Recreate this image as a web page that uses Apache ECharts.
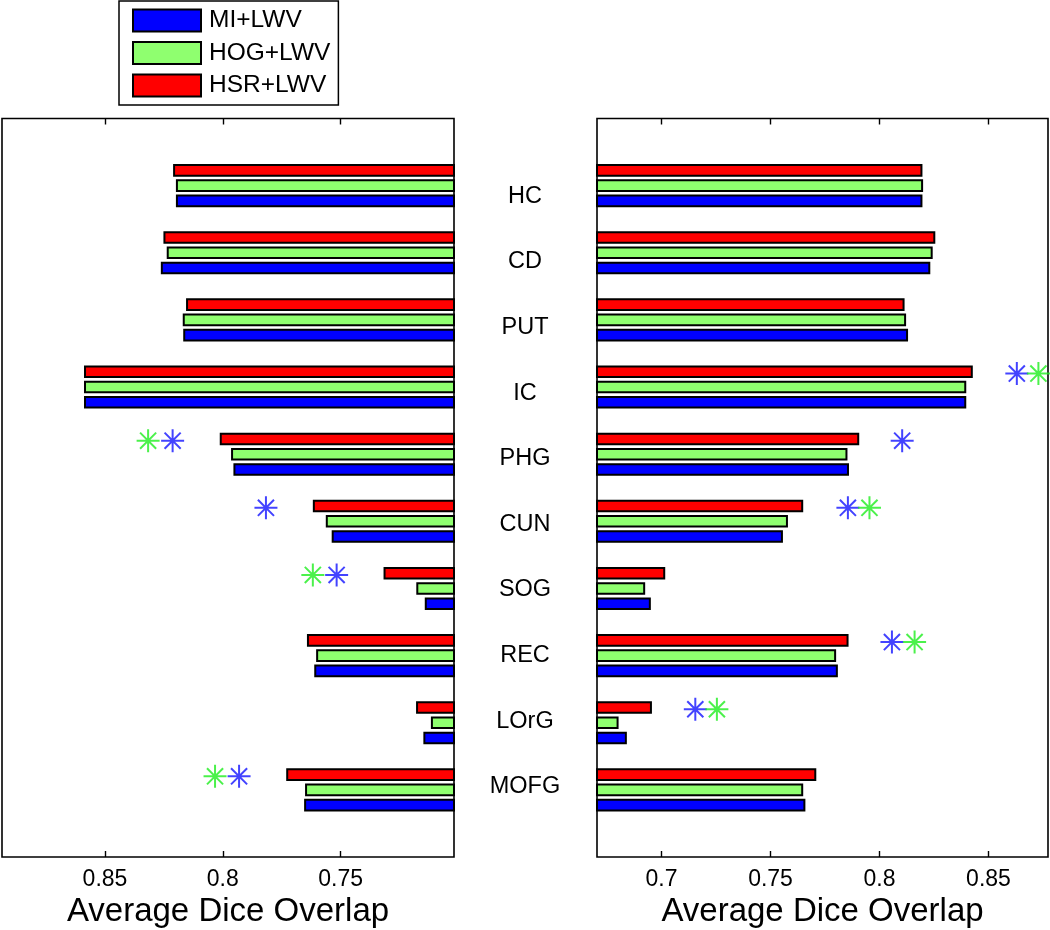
<!DOCTYPE html>
<html><head><meta charset="utf-8">
<script src="https://cdn.jsdelivr.net/npm/echarts@6/dist/echarts.min.js"></script>
<style>html,body{margin:0;padding:0;background:#fff}#c{width:1050px;height:930px}</style>
</head><body><div id="c"></div>
<script>
// ---------- data ----------
const categories = ['HC', 'CD', 'PUT', 'IC', 'PHG', 'CUN', 'SOG', 'REC', 'LOrG', 'MOFG'];
const seriesNames = ['MI+LWV', 'HOG+LWV', 'HSR+LWV'];

// left panel (reversed axis)
const leftMI  = [0.8199, 0.8263, 0.8168, 0.8589, 0.7955, 0.7538, 0.7143, 0.7612, 0.7149, 0.7655];
const leftHOG = [0.8199, 0.8238, 0.8170, 0.8589, 0.7965, 0.7563, 0.7179, 0.7604, 0.7117, 0.7651];
const leftHSR = [0.8211, 0.8252, 0.8156, 0.8589, 0.8013, 0.7618, 0.7318, 0.7643, 0.7180, 0.7731];

// right panel
const rightMI  = [0.8197, 0.8233, 0.8131, 0.8398, 0.7860, 0.7557, 0.6951, 0.7809, 0.6841, 0.7660];
const rightHOG = [0.8200, 0.8244, 0.8122, 0.8398, 0.7853, 0.7580, 0.6925, 0.7801, 0.6803, 0.7650];
const rightHSR = [0.8197, 0.8256, 0.8115, 0.8428, 0.7907, 0.7650, 0.7017, 0.7858, 0.6956, 0.7710];

// significance markers [value, category]
const leftStarsBlue  = [[0.8213, 'PHG'], [0.7817, 'CUN'], [0.7517, 'SOG'], [0.7931, 'MOFG']];
const leftStarsGreen = [[0.8317, 'PHG'], [0.7618, 'SOG'], [0.8033, 'MOFG']];
const rightStarsBlue  = [[0.8630, 'IC'], [0.8104, 'PHG'], [0.7855, 'CUN'], [0.8057, 'REC'], [0.7155, 'LOrG']];
const rightStarsGreen = [[0.8729, 'IC'], [0.7954, 'CUN'], [0.8161, 'REC'], [0.7254, 'LOrG']];

const leftTicks  = [0.75, 0.8, 0.85];
const rightTicks = [0.7, 0.75, 0.8, 0.85];
const leftRange  = [0.7019, 0.8937];
const rightRange = [0.6704, 0.8773];
const axisTitle = 'Average Dice Overlap';

// ---------- chart ----------
const FONT = 'Liberation Sans, Arial, Helvetica, sans-serif';
const colors = {MI: '#0000FF', HOG: '#8FFF6F', HSR: '#FF0000'};
const starColors = {blue: '#1414FF', green: '#1EEE1E'};
const padCats = [''].concat(categories, [' ']);
const pad = arr => ['-'].concat(arr, ['-']);
const STAR = 'path://M12 0V24M0 12H24M3.6 3.6L20.4 20.4M3.6 20.4L20.4 3.6';

function valueAxes(grid, range, ticks, inverse) {
  const common = {
    type: 'value', gridIndex: grid, min: range[0], max: range[1], inverse: inverse,
    axisLine: {show: false}, splitLine: {show: false},
    axisTick: {show: true, inside: true, length: 6, customValues: ticks, lineStyle: {color: '#000', width: 1.4}}
  };
  return [
    Object.assign({}, common, {
      position: 'bottom',
      axisLabel: {show: true, customValues: ticks, fontSize: 23, margin: 11, color: '#000', fontFamily: FONT},
      name: axisTitle, nameLocation: 'middle', nameGap: 37,
      nameTextStyle: {fontSize: 33, color: '#000', fontFamily: FONT}
    }),
    Object.assign({}, common, {position: 'top', axisLabel: {show: false}})
  ];
}
function catAxis(grid) {
  return {type: 'category', gridIndex: grid, inverse: true, data: padCats, boundaryGap: false,
    axisLine: {show: false}, axisTick: {show: false}, axisLabel: {show: false}, splitLine: {show: false}};
}
function bars(name, data, color, xi, yi) {
  return {type: 'bar', name: name, data: pad(data), xAxisIndex: xi, yAxisIndex: yi,
    barWidth: 12.6, barGap: '21%',
    itemStyle: {color: color, borderColor: '#000', borderWidth: 2}, silent: true};
}
function stars(data, color, xi, yi) {
  return {type: 'scatter', data: data, xAxisIndex: xi, yAxisIndex: yi, symbol: STAR, symbolSize: 23,
    symbolOffset: [0, -13.5], z: 5, silent: true,
    itemStyle: {color: 'none', borderColor: color, borderWidth: 2}};
}

const gridBase = {show: true, borderColor: '#000', borderWidth: 1.6, backgroundColor: 'transparent',
  top: 118.5, height: 738.5, containLabel: false, outerBoundsMode: 'none'};

const option = {
  animation: false,
  backgroundColor: '#fff',
  textStyle: {fontFamily: FONT},
  legend: {
    data: seriesNames, orient: 'vertical', left: 119, top: 1,
    padding: [7, 8, 7, 13], borderColor: '#000', borderWidth: 1.5, backgroundColor: '#fff',
    itemWidth: 68, itemHeight: 22, itemGap: 7.5, icon: 'rect', selectedMode: false,
    textStyle: {fontSize: 24.5, lineHeight: 22, color: '#000', fontFamily: FONT, padding: [0, 0, 0, 3]}
  },
  grid: [
    Object.assign({}, gridBase, {left: 2, width: 452}),
    Object.assign({}, gridBase, {left: 597, width: 451}),
    {left: 525, width: 1, top: 163.5, height: 656, show: false, containLabel: false, outerBoundsMode: 'none'}
  ],
  xAxis: [].concat(
    valueAxes(0, leftRange, leftTicks, true),
    valueAxes(1, rightRange, rightTicks, false),
    [{type: 'value', gridIndex: 2, show: false}]
  ),
  yAxis: [
    catAxis(0), catAxis(1),
    {type: 'category', gridIndex: 2, inverse: true, data: categories, boundaryGap: true, position: 'left',
      axisLine: {show: false}, axisTick: {show: false}, splitLine: {show: false},
      axisLabel: {show: true, align: 'center', margin: 0, fontSize: 23.5, color: '#000', fontFamily: FONT}}
  ],
  series: [
    bars('HSR+LWV', leftHSR, colors.HSR, 0, 0),
    bars('HOG+LWV', leftHOG, colors.HOG, 0, 0),
    bars('MI+LWV', leftMI, colors.MI, 0, 0),
    bars('HSR+LWV', rightHSR, colors.HSR, 2, 1),
    bars('HOG+LWV', rightHOG, colors.HOG, 2, 1),
    bars('MI+LWV', rightMI, colors.MI, 2, 1),
    stars(leftStarsBlue, starColors.blue, 0, 0),
    stars(leftStarsGreen, starColors.green, 0, 0),
    stars(rightStarsBlue, starColors.blue, 2, 1),
    stars(rightStarsGreen, starColors.green, 2, 1)
  ]
};
const chart = echarts.init(document.getElementById('c'), null, {renderer: 'canvas'});
chart.setOption(option);
</script>
</body></html>
